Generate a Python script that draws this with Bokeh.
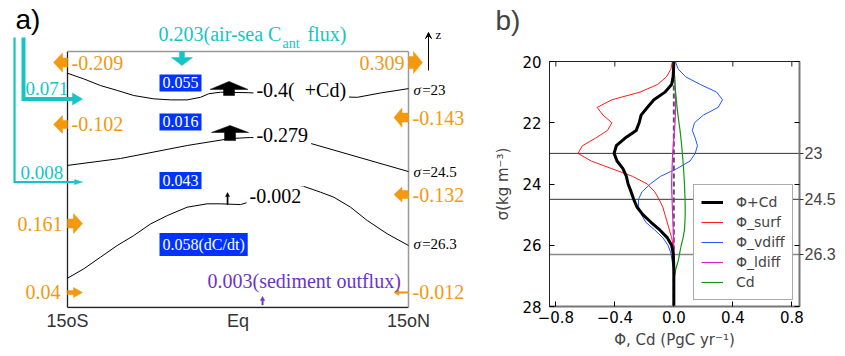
from bokeh.plotting import figure
from bokeh.layouts import row
from bokeh.models import (Range1d, FixedTicker, LinearAxis, Legend, LegendItem, Plot,
                          Label, Span, Arrow, VeeHead, ColumnDataSource)
from bokeh.core.properties import value
from bokeh.embed import file_html
from bokeh.resources import INLINE

SERIF = "Liberation Serif"
SANS = "Liberation Sans"
DJ = "DejaVu Sans"
ORANGE = "#f2990f"
CYAN = "#16c4c4"
PURPLE = "#6a35c8"
BLUEBOX = "#0033ff"
NB = "\u00a0"

# ====================== Panel a data (schematic) ======================
lat_ticks = [-15, 0, 15]
lat_labels = ["15oS", "Eq", "15oN"]

# isopycnal surfaces (latitude, normalised height z: 0 = bottom, 1 = top of box)
iso23_lat = [-15.0, -13.57, -12.1, -10.63, -9.17, -7.41, -5.94, -4.47, -3.3, -2.57, -1.54,
             0.95, 5.5, 10.49, 12.54, 15.0]
iso23_z = [0.915, 0.893, 0.867, 0.848, 0.828, 0.815, 0.811, 0.811, 0.821, 0.835, 0.841,
           0.839, 0.828, 0.821, 0.838, 0.855]
iso245_lat = [-15.0, -10.34, -4.44, -0.66, 1.1, 3.74, 6.38, 15.0]
iso245_z = [0.555, 0.582, 0.633, 0.660, 0.664, 0.656, 0.641, 0.531]
iso263_lat = [-15.0, -13.57, -12.1, -10.63, -9.17, -7.7, -6.23, -4.47, -2.71, -1.54, 0.22,
              2.86, 5.79, 7.26, 8.43, 9.9, 11.37, 13.13, 15.0]
iso263_z = [0.1145, 0.151, 0.1965, 0.242, 0.281, 0.3262, 0.359, 0.3918, 0.405, 0.405, 0.402,
            0.4375, 0.473, 0.4504, 0.4309, 0.3918, 0.3398, 0.2879, 0.2422]
iso_values = ["=23", "=24.5", "=26.3"]

# lateral fluxes (orange)
lateral_flux = ["-0.209", "0.309", "-0.102", "-0.143", "-0.132", "0.161", "0.04", "-0.012"]
# advective diapycnal fluxes (black)
dia_flux = ["-0.4(" + NB + NB + "+Cd)", "-0.279", "-0.002"]
# storage terms (blue boxes)
storage = ["0.055", "0.016", "0.043", "0.058(dC/dt)"]
# inflows from the south (cyan)
south_in = ["0.071", "0.008"]
airsea = "0.203"
sediment = "0.003(sediment outflux)"

# ====================== Panel b data (profiles) ======================
sigma = [20.0, 20.25, 20.5, 20.75, 21.0, 21.25, 21.5, 21.75, 22.0, 22.25, 22.5, 22.75,
         23.0, 23.25, 23.5, 23.75, 24.0, 24.25, 24.5, 24.75, 25.0, 25.25, 25.5, 25.75,
         26.0, 26.25, 26.5, 26.75, 27.0, 27.25, 27.5, 27.75, 28.0]
phi_cd = [0.0, -0.002, -0.005, -0.015, -0.06, -0.135, -0.18, -0.222, -0.235, -0.255, -0.33, -0.39,
          -0.405, -0.385, -0.345, -0.322, -0.31, -0.29, -0.272, -0.25, -0.21, -0.155, -0.095, -0.045,
          -0.015, -0.005, -0.002, 0.0, 0.0, 0.0, 0.0, 0.0, 0.0]
phi_surf = [-0.01, -0.02, -0.05, -0.11, -0.23, -0.42, -0.52, -0.48, -0.42, -0.45, -0.53, -0.62,
            -0.65, -0.56, -0.42, -0.28, -0.18, -0.13, -0.10, -0.075, -0.06, -0.045, -0.03, -0.015,
            -0.005, 0.0, 0.0, 0.0, 0.0, 0.0, 0.0, 0.0, 0.0]
phi_vdiff = [0.01, 0.03, 0.08, 0.18, 0.29, 0.33, 0.30, 0.2, 0.14, 0.125, 0.145, 0.16,
             0.145, 0.11, 0.02, -0.09, -0.16, -0.215, -0.24, -0.24, -0.22, -0.19, -0.13, -0.075,
             -0.04, -0.02, -0.012, -0.005, 0.0, 0.0, 0.0, 0.0, 0.0]
phi_ldiff = [0.0, 0.002, 0.005, 0.008, 0.01, 0.012, 0.012, 0.01, 0.008, 0.004, 0.0, -0.004,
             -0.008, -0.01, -0.012, -0.014, -0.015, -0.014, -0.012, -0.01, -0.008, -0.006, -0.004, -0.002,
             -0.001, 0.0, 0.0, 0.0, 0.0, 0.0, 0.0, 0.0, 0.0]
cd = [0.0, 0.002, 0.005, 0.008, 0.012, 0.017, 0.022, 0.028, 0.035, 0.042, 0.048, 0.053,
      0.058, 0.062, 0.066, 0.069, 0.072, 0.074, 0.076, 0.077, 0.077, 0.075, 0.072, 0.063,
      0.05, 0.04, 0.03, 0.015, 0.005, 0.002, 0.0, 0.0, 0.0]
sigma_levels = [23, 24.5, 26.3]
sigma_labels = ["23", "24.5", "26.3"]
xb_ticks = [-0.8, -0.4, 0.0, 0.4, 0.8]
xb_labels = ["\u22120.8", "\u22120.4", "0.0", "0.4", "0.8"]
yb_ticks = [20, 22, 24, 26, 28]

# ====================== layout ======================
H = 356
NOALIGN = {"frame_align": False} if "frame_align" in Plot.properties() else {}

# ====================== Panel a figure ======================
WA, BBA = 478, 48
XA = (-20.894, 21.158)
ZA = (-0.0039, 1.1992)
SX = WA / (XA[1] - XA[0])            # px per degree
SZ = (H - BBA) / (ZA[1] - ZA[0])     # px per unit z


def dx(px):
    return px / SX


def dz(px):
    return px / SZ


def harrow(x_base, x_tip, z, head_len, head_half, stem_half):
    d = 1 if x_tip > x_base else -1
    xn = x_tip - d * dx(head_len)
    xs = [x_base, xn, xn, x_tip, xn, xn, x_base]
    ys = [z + dz(stem_half), z + dz(stem_half), z + dz(head_half), z,
          z - dz(head_half), z - dz(stem_half), z - dz(stem_half)]
    return xs, ys


def varrow(x, z_base, z_tip, head_len, head_half, stem_half):
    d = 1 if z_tip > z_base else -1
    zn = z_tip - d * dz(head_len)
    xs = [x - dx(stem_half), x - dx(stem_half), x - dx(head_half), x,
          x + dx(head_half), x + dx(stem_half), x + dx(stem_half)]
    ys = [z_base, zn, zn, z_tip, zn, zn, z_base]
    return xs, ys


def texts(p, xs, ys, ts, color, size, font=SERIF, align="left", **kw):
    p.text(x=xs, y=ys, text=ts, text_align=align, text_baseline="middle",
           text_font=value(font), text_font_size=size, text_color=color, **kw)


pa = figure(width=WA, height=H, x_range=Range1d(*XA), y_range=Range1d(*ZA),
            output_backend="svg", toolbar_location=None, y_axis_location=None,
            min_border_left=0, min_border_right=0, min_border_top=0,
            min_border_bottom=BBA, outline_line_color=None, **NOALIGN)
pa.grid.visible = False
ax = pa.xaxis[0]
ax.ticker = FixedTicker(ticks=lat_ticks)
ax.major_label_overrides = dict(zip(lat_ticks, lat_labels))
ax.axis_line_color = None
ax.major_tick_line_color = None
ax.minor_tick_line_color = None
ax.major_label_text_font = SANS
ax.major_label_text_font_size = "18px"
ax.major_label_text_color = "#333333"
ax.major_label_standoff = -4

L, R = lat_ticks[0], lat_ticks[-1]
# box
pa.segment(x0=[L, L], y0=[0, 0], x1=[L, R], y1=[1, 0], line_color="#222222", line_width=1.3)
pa.segment(x0=[L, R], y0=[1, 0], x1=[R, R], y1=[1, 1], line_color="#999999", line_width=1.5)

# isopycnals
for xs_, zs_ in [(iso23_lat, iso23_z), (iso245_lat, iso245_z), (iso263_lat, iso263_z)]:
    pa.line(xs_, zs_, line_color="black", line_width=1, line_join="round")

# orange lateral arrows: (base, tip, z, head_len, head_half, stem_half)
o_arrows = [(L, -16.23, 0.957, 9, 9.5, 4.5), (R, 16.23, 0.957, 9, 11, 6),
            (L, -16.23, 0.715, 9, 9, 4), (R, 13.72, 0.742, 8, 9.5, 4.5),
            (R, 13.72, 0.441, 8, 7.5, 4), (L, -13.68, 0.328, 9, 10, 4.5),
            (L, -13.68, 0.0586, 9, 5, 2), (R, 13.72, 0.0586, 5, 3, 0.8)]
oxs, oys = [], []
for a in o_arrows:
    xs_, ys_ = harrow(*a)
    oxs.append(xs_)
    oys.append(ys_)
pa.patches(oxs, oys, fill_color=ORANGE, line_color=ORANGE, line_width=0.5)

o_src = ColumnDataSource(dict(
    x=[-14.65, 14.65, -14.65, 15.35, 15.35, -15.44, -15.62, 15.35],
    y=[0.957, 0.957, 0.715, 0.742, 0.441, 0.328, 0.0586, 0.0586],
    t=lateral_flux,
    al=["left", "right", "left", "left", "left", "right", "right", "left"]))
pa.text(x="x", y="y", text="t", text_align="al", source=o_src, text_baseline="middle",
        text_font=value(SERIF), text_font_size="20px", text_color=ORANGE)

# cyan air-sea arrow and inflow paths
cxs, cys = [], []
for xs_, ys_ in [varrow(-4.93, 1.0, 0.945, 8, 10.5, 2.5),
                 harrow(-14.6, -13.68, 0.8145, 10, 6, 0.1),
                 harrow(-14.5, -13.68, 0.490, 8, 2.5, 0.1)]:
    cxs.append(xs_)
    cys.append(ys_)
pa.patches(cxs, cys, fill_color=CYAN, line_color=CYAN, line_width=0.5)
pa.line([-18.87, -18.87, -14.5], [1.055, 0.8145, 0.8145], line_color=CYAN, line_width=4,
        line_join="miter")
pa.line([-19.66, -19.66, -14.4], [1.055, 0.490, 0.490], line_color=CYAN, line_width=2.2,
        line_join="miter")

texts(pa, [-18.69, -19.13], [0.855, 0.527], south_in, CYAN, "19px")
texts(pa, [-6.99, 6.11], [1.070, 1.070], [airsea + "(air-sea C", "flux)"], CYAN, "20px")
texts(pa, [3.91], [1.031], ["ant"], CYAN, "14px")

# sediment outflux
pa.patch(*varrow(2.16, 0.01, 0.043, 4, 2.2, 0.7), fill_color=PURPLE, line_color=PURPLE,
         line_width=0.5)
texts(pa, [-2.68], [0.105], [sediment], PURPLE, "20px")

# black diapycnal arrows
bxs, bys = [], []
for a in [(-0.79, 0.828, 0.883, 8, 19, 5.5), (-0.7, 0.652, 0.711, 7, 18.5, 5.5),
          (-0.92, 0.402, 0.449, 4, 2, 0.6)]:
    xs_, ys_ = varrow(*a)
    bxs.append(xs_)
    bys.append(ys_)
pa.patches(bxs, bys, fill_color="black", line_color="black", line_width=0.5)

texts(pa, [1.36, 1.36, 0.75], [0.848, 0.672, 0.434], dia_flux, "black", "20px",
      background_fill_color="white", padding=3)

# storage (blue boxes)
texts(pa, [-6.906] * 4, [0.877, 0.725, 0.496, 0.246], storage, "white", "16px",
      background_fill_color=BLUEBOX, padding=3)

# sigma labels
iso_y = [0.850, 0.531, 0.25]
texts(pa, [15.44] * 3, iso_y, ["\u03c3"] * 3, "black", "15px", text_font_style="italic")
texts(pa, [16.2] * 3, iso_y, iso_values, "black", "15px")

# z axis arrow
pa.add_layout(Arrow(x_start=16.76, y_start=0.926, x_end=16.76, y_end=1.074,
                    line_width=1, line_color="black",
                    end=VeeHead(size=6, line_width=1, line_color="black")))
texts(pa, [17.38], [1.066], ["z"], "black", "13px")

# panel tag
texts(pa, [-19.57], [1.125], ["a)"], "black", "28px", font=SANS)

# ====================== Panel b figure ======================
WB = 845 - WA
pb = figure(width=WB, height=H, x_range=Range1d(-0.843, 0.852), y_range=Range1d(28, 20),
            output_backend="svg", toolbar_location=None,
            min_border_left=71, min_border_right=46, min_border_top=61, min_border_bottom=50,
            outline_line_color="#222222", outline_line_width=1, **NOALIGN)
pb.grid.visible = False

for lv, col, lw in zip(sigma_levels, ["#333333", "#333333", "#888888"], [1, 1, 1.5]):
    pb.add_layout(Span(location=lv, dimension="width", line_color=col, line_width=lw,
                       level="underlay"))
pb.add_layout(Span(location=0, dimension="height", line_color="#555555", line_width=2,
                   line_dash="5 3", level="underlay"))

r_surf = pb.line(phi_surf, sigma, line_color="#ff1a1a", line_width=1, line_join="round")
r_vdiff = pb.line(phi_vdiff, sigma, line_color="#2255ff", line_width=1, line_join="round")
r_ldiff = pb.line(phi_ldiff, sigma, line_color="#e020c8", line_width=1.2)
r_cd = pb.line(cd, sigma, line_color="#119911", line_width=1.2)
r_phicd = pb.line(phi_cd, sigma, line_color="black", line_width=3, line_join="round")

# inward tick marks along the top edge (5 px long)
tick_len = 5 * 8 / 245
pb.segment(x0=xb_ticks, y0=[20] * len(xb_ticks), x1=xb_ticks,
           y1=[20 + tick_len] * len(xb_ticks), line_color="#222222", line_width=1)

xa = pb.xaxis[0]
xa.ticker = FixedTicker(ticks=xb_ticks)
xa.major_label_overrides = dict(zip(xb_ticks, xb_labels))
xa.axis_label = "\u03a6, Cd (PgC yr\u207b\u00b9)"
ya = pb.yaxis[0]
ya.ticker = FixedTicker(ticks=yb_ticks)
ya.axis_label = "\u03c3(kg m\u207b\u00b3)"
for a in (xa, ya):
    a.major_tick_in = 5
    a.major_tick_out = 0
    a.minor_tick_line_color = None
    a.major_label_text_font = DJ
    a.major_label_text_font_size = "15px"
    a.major_label_text_color = "black"
    a.axis_label_text_font = DJ
    a.axis_label_text_font_size = "15px"
    a.axis_label_text_font_style = "normal"
xa.major_label_standoff = 4
xa.axis_label_standoff = 5
xa.axis_line_color = "#777777"
xa.axis_line_width = 2
ya.major_label_standoff = 8
ya.axis_line_color = "#222222"
ya.axis_label_standoff = 7

right = LinearAxis(ticker=FixedTicker(ticks=sigma_levels, minor_ticks=yb_ticks),
                   major_tick_in=0, major_tick_out=4, minor_tick_in=5, minor_tick_out=0,
                   major_tick_line_color="#333333",
                   major_label_overrides=dict(zip(sigma_levels, sigma_labels)),
                   major_label_text_font=SANS, major_label_text_font_size="16px",
                   major_label_standoff=1, axis_line_color="#777777", axis_line_width=2)
pb.add_layout(right, "right")

legend = Legend(items=[LegendItem(label="\u03a6+Cd", renderers=[r_phicd]),
                       LegendItem(label="\u03a6_surf", renderers=[r_surf]),
                       LegendItem(label="\u03a6_vdiff", renderers=[r_vdiff]),
                       LegendItem(label="\u03a6_ldiff", renderers=[r_ldiff]),
                       LegendItem(label="Cd", renderers=[r_cd])],
                location=(144, 6), label_text_font=DJ, label_text_font_size="14px",
                glyph_width=22, glyph_height=20, label_height=20, label_standoff=13,
                padding=7, spacing=0, margin=0, border_line_color="#555555",
                border_line_width=1.5, background_fill_alpha=1)
pb.add_layout(legend)

# panel tag placed in the (unclipped) top border panel
pb.add_layout(Label(x=-54, y=41.5, x_units="screen", y_units="screen", text="b)",
                    text_baseline="middle", text_font=SANS, text_font_size="28px"), "above")

layout = row(pa, pb)
open("out.html", "w").write(file_html(layout, INLINE))
